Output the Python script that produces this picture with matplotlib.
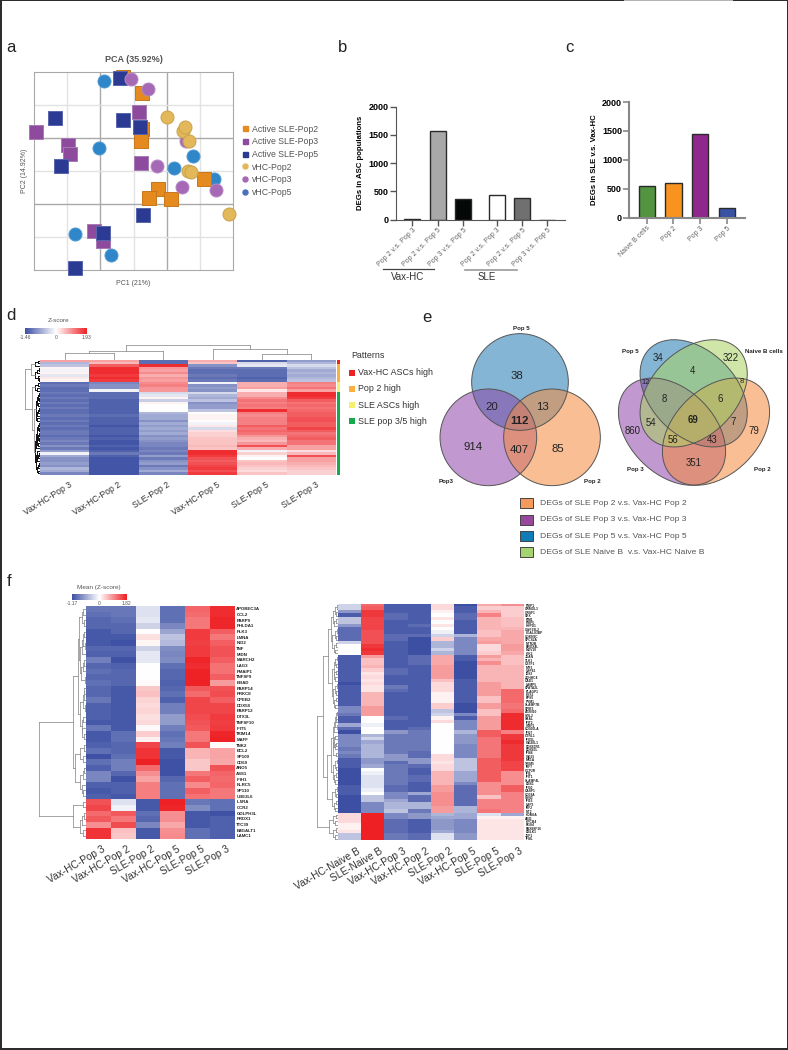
import matplotlib
matplotlib.use('Agg')
import matplotlib.pyplot as plt
import numpy as np
from matplotlib.colors import LinearSegmentedColormap, ListedColormap, TwoSlopeNorm
from matplotlib.cm import ScalarMappable
from matplotlib.lines import Line2D
from matplotlib.patches import Circle, Ellipse, Rectangle
from matplotlib.transforms import ScaledTranslation

plt.rcParams['font.family'] = ['Liberation Sans', 'DejaVu Sans']

## data: a, PCA scores ##
sle_pop2 = [(268, 585), (325, 535), (325, 428), (323, 390), (512, 275), (374, 244), (346, 217), (413, 214)]
sle_pop3 = [(7, 418), (104, 378), (110, 352), (317, 478), (322, 325), (180, 119), (208, 87)]
sle_pop5 = [(260, 582), (62, 462), (267, 455), (320, 432), (80, 315), (328, 168), (209, 112), (125, 7)]
vhc_pop2 = [(400, 465), (450, 422), (456, 432), (467, 392), (463, 300), (474, 296), (589, 171)]
vhc_pop3 = [(291, 580), (344, 549), (458, 392), (371, 316), (446, 251), (550, 242)]
vhc_pop5 = [(210, 572), (196, 371), (480, 345), (422, 308), (542, 277), (125, 110), (233, 45)]

## data: b and c, DEG counts ##
b_labels = ['Pop 2 v.s. Pop 3', 'Pop 2 v.s. Pop 5', 'Pop 3 v.s. Pop 5',
            'Pop 2 v.s. Pop 3', 'Pop 2 v.s. Pop 5', 'Pop 3 v.s. Pop 5']
b_values = [20, 1570, 360, 430, 380, 0]
c_labels = ['Naive B cells', 'Pop 2', 'Pop 3', 'Pop 5']
c_values = [550, 600, 1440, 165]

## data: d, z-score x 10 ##
d_columns = ['Vax-HC-Pop 3', 'Vax-HC-Pop 2', 'SLE-Pop 2', 'Vax-HC-Pop 5', 'SLE-Pop 5', 'SLE-Pop 3']
d_rows = [
    [8, 8, -12, 7, -13, -8], [-6, 6, -12, 5, -3, -6], [-5, 14, 18, -9, -2, -3], [1, 18, 9, -11, -11, -5],
    [-1, 18, 8, -12, -12, -7], [1, 18, 10, -12, -12, -6], [-2, 17, 7, -11, -12, -7], [2, 18, 9, -12, -13, -6],
    [1, 17, 8, -11, -12, -5], [-12, -10, 10, -1, 7, 11], [-11, -9, 11, -9, 7, 10], [-12, -9, 9, -8, 8, 12],
    [-12, -1, 9, -9, 2, 8], [-11, -12, -3, -3, 7, 18], [-12, -12, -2, -6, 7, 18], [-11, -12, 1, -7, 10, 17],
    [-12, -13, -4, -5, 12, 14], [-11, -13, 1, -9, 11, 12], [-12, -13, 0, -8, 12, 13], [-11, -13, 0, -8, 11, 12],
    [-12, -13, 0, -5, 18, 13], [-12, -13, -6, 0, 11, 14], [-11, -12, -7, 1, 10, 14], [-12, -13, -7, 1, 11, 15],
    [-11, -13, -9, 0, 11, 15], [-12, -13, -7, -1, 11, 14], [-11, -14, -8, 2, 14, 14], [-12, -13, -7, -3, 12, 16],
    [-11, -13, -8, 3, 13, 14], [-11, -13, -7, 4, 12, 12], [-12, -14, -9, 4, 9, 13], [-11, -13, -8, 5, 7, 14],
    [-10, -14, -9, 5, 6, 12], [-11, -14, -10, 5, 9, 12], [-9, -13, -10, 6, 15, 8], [-11, -14, -11, 5, 7, 8],
    [-8, -13, -10, 18, -1, 3], [-1, -11, -11, 18, 4, 6], [-7, -13, -8, 17, 1, 15], [-9, -14, -11, 15, 0, 8],
    [-9, -14, -9, 14, 5, 8], [-8, -14, -8, 15, 6, 7], [-9, -14, -11, 16, 5, 6], [-6, -14, -9, 17, 4, 5],
    [-7, -14, -7, 15, 3, 4], [-10, -14, -10, 17, 5, 4],
]
d_pattern = [0] * 2 + [1] * 7 + [2] * 4 + [3] * 33
pattern_names = ['Vax-HC ASCs high', 'Pop 2 high', 'SLE ASCs high', 'SLE pop 3/5 high']
pattern_colors = ['#ee2024', '#fbb040', '#f5ee6e', '#1aa84f']

## data: e, Venn counts ##
venn3_counts = ['38', '20', '13', '112', '914', '407', '85']
venn4_counts = ['34', '4', '322', '12', '8', '6', '8', '54', '69', '7', '860', '79', '56', '43', '351']
e_legend = ['DEGs of SLE Pop 2 v.s. Vax-HC Pop 2', 'DEGs of SLE Pop 3 v.s. Vax-HC Pop 3',
            'DEGs of SLE Pop 5 v.s. Vax-HC Pop 5', 'DEGs of SLE Naive B  v.s. Vax-HC Naive B']
e_colors = ['#f59a5f', '#97479c', '#0f7cb8', '#a5d36f']

## data: f, left heatmap, z-score x 10 ##
f1_columns = d_columns
f1_genes = ['APOBEC3A', 'CCL2', 'PARP9', 'PHLDA1', 'PLK3', 'LMNA', 'NID2', 'TNF', 'MIDN', 'MARCH2', 'LAG3',
            'PMAIP1', 'TNFSF9', 'BBAD', 'PARP14', 'PRKCE', 'CPEB2', 'DDX58', 'PARP12', 'DTX3L', 'TNFSF10',
            'IFIT5', 'TRIM14', 'MAFF', 'TNK2', 'BCL2', 'SP100', 'CD69', 'ANO5', 'ASS1', 'IFIH1', 'NLRC5',
            'SP110', 'UBE2L6', 'IL5RA', 'CCR2', 'GOLPH3L', 'PRDX1', 'TTC39', 'B4GALT1', 'LAMC1']
f1_rows = [
    [-9, -9, -2, -9.5, 12.5, 17], [-9.5, -9, -2, -9.5, 12, 17], [-10, -9.5, -1.5, -9.5, 11, 17.5],
    [-10, -10, -3, -8, 11, 17.5], [-11, -10, 0.2, -6, 16, 13], [-11, -11, 2.5, -4, 16, 11],
    [-11, -11.5, 0.8, -4.5, 15.5, 13], [-10, -10, -3, -7.5, 16, 14], [-10.5, -10.5, -1.5, -8, 16, 14],
    [-8.5, -11.5, -1.5, -7.5, 17.5, 13], [-10, -10.5, 0, -9.5, 17, 11.5], [-9.5, -10, 0, -10, 18, 11.5],
    [-10, -10, 0, -10, 18, 13], [-9.5, -10, 0.3, -10.5, 18, 8], [-10, -11, 4.5, -10, 13.5, 14],
    [-10, -11, 5, -9.5, 12, 14.5], [-9, -11, 3.5, -10.5, 15, 13], [-10.5, -11, 3, -8.5, 15, 15],
    [-10.5, -11, 3.5, -8.5, 15, 15], [-10.5, -11, 2.5, -6.5, 14.5, 16], [-11, -11, 3, -6.5, 14, 15.5],
    [-9, -11, 0.5, -8.5, 13.5, 16], [-11, -9.5, 4, -9.5, 11, 17.5], [-11, -9.5, 1, -9, 11, 18],
    [-10.5, -10, 15, -8.5, 14, 0.2], [-9.5, -10, 16.5, -11, 6, 7.5], [-11.5, -9.5, 16.5, -11, 6, 7.5],
    [-9.5, -8.5, 18, -11.5, 4.5, 7], [-10.5, -8.5, 12, -11.5, 4.5, 14], [-8, -10, 9, -11.5, 11, 12.5],
    [-8, -11.5, 7.5, -10, 13, 12], [-10.5, -10.5, 10.5, -9.5, 9.5, 12.5], [-11, -10.5, 10.5, -9.5, 13, 11],
    [-10.5, -11, 10.5, -9.5, 11.5, 11], [14, -2, -11, 18, -9, -9.5], [15, -0.8, -11, 17.5, -7.5, -9.5],
    [12, 13.5, -9.5, 9, -11, -11.5], [13.5, 11, -10, 9, -11, -10.5], [9, 14.5, -8, 7, -11, -10.5],
    [16.5, 5, -11, 9, -9.5, -10.5], [16.5, 4.5, -11, 9.5, -9.5, -10.5],
]

## data: f, right heatmap, z-score x 10 ##
f2_columns = ['Vax-HC-Naive B', 'SLE-Naive B', 'Vax-HC-Pop 3', 'Vax-HC-Pop 2', 'SLE-Pop 2', 'Vax-HC-Pop 5',
              'SLE-Pop 5', 'SLE-Pop 3']
f2_genes = ['PSIP1', 'ORMDL3', 'GRSF1', 'SRX', 'PIM1', 'PSIP5', 'HSPD1', 'CWF19L2', 'LGALS3BP', 'CDKN2C',
            'SPCS2A', 'MTR2B', 'BROX4L', 'MOV10', 'KIK2', 'JUAN', 'TLK1', 'CSTF1', 'MIF1', 'USP41', 'IDS3',
            'ZDHHC4', 'CAD1', 'LAMP5', 'SPATA2L', 'PLAGP1', 'EYS1', 'EPS5', 'PYM1', 'SLAMF7B', 'SPIB3',
            'ATXN10', 'STIL2', 'SAAL', 'IFIT2', 'ISBP1', 'CD300LA', 'IFI27', 'OTRL1', 'IFI35L', 'ISG20L1',
            'DDX60R1', 'DDX60L', 'IFI44', 'ISG15', 'MX1A', 'TRIM5', 'IRF7', 'GCP2R', 'IFI6', 'IFIT1',
            'SLAMF4L', 'DBX1', 'IFI30', 'CASP1', 'CD38A', 'SYN3', 'IFI16', 'LAP3', 'IRF2', 'MT2', 'KDM5A',
            'ABI3', 'KPCB4', 'RGS4', 'PAX8SF16', 'DBLK1', 'JUP1', 'IFI4L']
f2_rows = [
    [-3, 12, -11, -11, 3, -13, 7, 9], [-3, 13, -11, -11, 3, -11, 4, 4], [-7, 16, -11, -11, 1, -11, 6, 4],
    [-11, 16, -10, -11, 0, -10, 10, 4], [-4, 15, -10, -11, 2, -10, 6, 5], [-4, 15, -11, -11, 0, -11, 6, 5],
    [-7, 15, -11, -10, 2, -11, 6, 5], [-10, 15, -11, -11, 0, -11, 6, 6], [-10, 14, -11, -11, -1, -11, 5, 7],
    [-10, 14, -10, -10, -3, -5, 5, 7], [-10, 14, -10, -12, 4, -8, 7, 7], [-3, 14, -11, -12, -5, -8, 8, 7],
    [0, 16, -11, -12, -5, -8, 3, 8], [0, 17, -11, -12, -3, -8, 3, 8], [0, 16, -11, -12, -5, -8, 4, 7],
    [-11, 8, -11, -10, 7, -11, 8, 5], [-11, 5, -11, -10, 7, -11, 6, 5], [-11, 5, -11, -10, 7, -12, 9, 5],
    [-11, 6, -11, -11, 8, -12, 6, 6], [-11, 4, -10, -11, 8, -12, 6, 6], [-11, 2, -10, -11, 8, -12, 6, 6],
    [-11, 3, -11, -11, 8, -12, 6, 6], [-11, 2, -11, -11, 5, -11, 6, 6], [-12, 3, -11, -11, 3, -11, 8, 6],
    [-11, 2, -9, -11, 3, -11, 8, 6], [-11, 2, -10, -11, 3, -11, 8, 12], [-11, 6, -11, -11, 1, -11, 8, 12],
    [-11, 6, -11, -11, 1, -11, 5, 12], [-11, 6, -11, -11, 1, -11, 5, 12], [-11, 6, -11, -11, 4, -12, 8, 11],
    [-8, 8, -11, -11, 4, -12, 8, 11], [-8, 8, -11, -11, -4, -12, 5, 12], [-9, 8, -11, -11, -3, -8, 5, 17],
    [-11, 0, -10, -11, 1, -11, 8, 17], [-11, 0, -11, -11, 3, -8, 8, 17], [-6, -1, -11, -11, 0, -8, 8, 17],
    [-10, 0, -11, -10, 0, -8, 8, 17], [-13, 0, -7, -9, 0, -5, 13, 10], [-8, -5, -9, -9, 0, -7, 13, 16],
    [-8, -3, -9, -9, 0, -7, 11, 16], [-8, -6, -9, -9, 0, -7, 11, 17], [-8, -5, -9, -9, 0, -8, 11, 16],
    [-9, -5, -9, -9, 0, -8, 11, 16], [-8, -5, -9, -10, 0, -8, 11, 16], [-9, -5, -7, -10, 3, -8, 11, 16],
    [-11, -7, -7, -7, 3, -4, 13, 16], [-11, -7, -10, -7, 2, -4, 13, 15], [-11, -6, -9, -10, 3, -4, 13, 15],
    [-13, 0, -9, -11, 3, -4, 13, 15], [-13, -1, -9, -11, 6, -6, 13, 9], [-13, -2, -9, -10, 6, -6, 13, 9],
    [-13, -2, -9, -10, 6, -6, 13, 9], [-13, -2, -9, -11, 6, -8, 9, 9], [-11, -2, -10, -11, 8, -10, 9, 13],
    [-11, -1, -10, -11, 8, -10, 9, 13], [-11, 0, -8, -6, 9, -10, 9, 10], [-12, -4, -8, -10, 9, -10, 5, 10],
    [-12, -4, -6, -10, 9, -10, 10, 10], [-12, -8, -5, -5, 9, -10, 10, 10], [-13, -8, -5, -5, 8, -5, 10, 10],
    [-13, -8, -4, -9, 8, -5, 11, 10], [3, 18, -8, -7, -5, -6, -2, -6], [3, 18, -8, -7, -6, -6, 1, 1],
    [3, 18, -10, -11, -7, -8, 2, 2], [1, 18, -10, -11, -7, -8, 2, 2], [1, 18, -10, -11, -7, -8, 2, 2],
    [2, 18, -10, -11, -6, -8, 2, 2], [-4, 18, -9, -10, -2, -7, 2, 2], [-4, 18, -9, -10, -2, -7, 2, 2],
]


def chain(first, last, heights):
    # heights[i] is the merge height between row first+i and the next row, tallest split first
    if first == last:
        return first
    i = heights.index(max(heights))
    return (heights[i], chain(first, first + i, heights[:i]), chain(first + i + 1, last, heights[i + 1:]))


## dendrograms, (height, child, child), leaves are row numbers ##
d_col_tree = (42, (25, (18, 0, 1), 2), (31, 3, (15, 4, 5)))
d_row_tree = (15, (9, chain(0, 2, [2, 5]), chain(3, 8, [1, 3, 5, 2, 1])),
              (8, chain(9, 12, [2, 5, 3]),
               (6, chain(13, 24, [1, 2, 1.5, 3, 2, 4.5, 1.5, 2.5, 3, 4, 3.5]),
                chain(25, 45, [1, 2, 1, 3, 1.5, 2.5, 1, 3, 2, 4.5, 5, 3.5, 1.5, 2.5, 3, 4, 1, 2, 3, 2]))))
f1_tree = (47, (13, (8, (6.5, chain(0, 3, [2.5, 4, 1.5]),
                         chain(4, 13, [1.5, 2.5, 1, 3.5, 5.5, 2, 3, 4.5, 1])),
                     chain(14, 23, [1.5, 2, 3, 1, 6, 2.5, 4, 3.5, 1.5])),
                (11, chain(24, 27, [2, 6, 3]), chain(28, 33, [1.5, 3, 6, 4, 2.5]))),
           (13, chain(34, 35, [3]), chain(36, 40, [2, 4, 6, 3])))
f2_tree = (21, (15, (10, (7, chain(0, 6, [1, 3, 2, 5, 1.5, 3.5]),
                          chain(7, 14, [1, 2.5, 1.5, 5.5, 2, 4, 3])),
                     (6, chain(15, 22, [1, 2.5, 1.5, 4, 2, 3.5, 3]),
                      chain(23, 30, [1, 2.5, 2, 4.5, 1.5, 3.5, 3]))),
                (11, (7, chain(31, 44, [1, 2, 1.5, 3, 1, 3.5, 5, 2.5, 4, 1.5, 3, 4.5, 2]),
                      chain(45, 52, [1, 2.5, 1.5, 5, 2, 3.5, 3])),
                 chain(53, 60, [1, 2.5, 1.5, 5.5, 2, 4, 3]))),
           (9, chain(61, 64, [1.5, 5, 3]), chain(65, 68, [1.5, 5, 3])))

W, H = 788, 1050
fig = plt.figure(figsize=(W / 100, H / 100), dpi=100, facecolor='white')


def px_axes(left, top, right, bottom):
    return fig.add_axes([left / W, 1 - bottom / H, (right - left) / W, (bottom - top) / H])


heat_cmap = LinearSegmentedColormap.from_list('heat', ['#3c4fa3', '#ffffff', '#ee2024'])


def draw_tree(ax, node, on_rows=True, dark=0):
    if not isinstance(node, tuple):
        return node, 0
    h = node[0]
    kids = [draw_tree(ax, kid, on_rows, dark) for kid in node[1:]]
    col = '#111111' if h < dark else '#8c8c8c'
    lw = 0.7 if h < dark else 0.55
    for p, kh in kids:
        if on_rows:
            ax.plot([kh, h], [p, p], color=col, lw=lw)
        else:
            ax.plot([p, p], [kh, h], color=col, lw=lw)
    if on_rows:
        ax.plot([h, h], [kids[0][0], kids[-1][0]], color=col, lw=lw)
    else:
        ax.plot([kids[0][0], kids[-1][0]], [h, h], color=col, lw=lw)
    return (kids[0][0] + kids[-1][0]) / 2, h


def heatmap(box, rows, columns, vmin, vmax, col_size, angle, shift):
    ax = px_axes(*box)
    norm = TwoSlopeNorm(vmin=vmin, vcenter=0, vmax=vmax)
    ax.imshow(np.array(rows, dtype=float) / 10, cmap=heat_cmap, norm=norm, aspect='auto', interpolation='nearest')
    ax.set_yticks([])
    ax.set_xticks(range(len(columns)))
    ax.set_xticklabels(columns, rotation=angle, ha='right', rotation_mode='anchor', fontsize=col_size, color='#333333')
    ax.tick_params(axis='x', length=0, pad=4)
    for t in ax.get_xticklabels():
        t.set_transform(t.get_transform() + ScaledTranslation(shift / 100, 0, fig.dpi_scale_trans))
    for s in ax.spines.values():
        s.set_visible(False)
    return ax, norm


def score_bar(box, norm, ticks, labels):
    cax = px_axes(*box)
    cb = fig.colorbar(ScalarMappable(norm=norm, cmap=heat_cmap), cax=cax, orientation='horizontal')
    cb.outline.set_visible(False)
    cb.set_ticks(ticks)
    cb.set_ticklabels(labels)
    cax.tick_params(length=0, labelsize=3.6, pad=1, labelcolor='#555555')


## a ##
ax = px_axes(34, 72, 233, 270)
ax.set_xlim(0, 600)
ax.set_ylim(0, 600)
pca_sets = [(vhc_pop5, 'o', '#2f86c8', '#4f9ad2'), (sle_pop2, 's', '#e58a1f', '#c9761a'),
            (sle_pop3, 's', '#8e4b9e', '#a77ab3'), (sle_pop5, 's', '#2b3a92', '#5a66ad'),
            (vhc_pop3, 'o', '#a569b5', '#b78ac4'), (vhc_pop2, 'o', '#e3b85a', '#c9a24a')]
for pts, mark, col, edge in pca_sets:
    xs, ys = zip(*pts)
    ax.scatter(xs, ys, s=88, marker=mark, color=col, edgecolors=edge, linewidths=0.7, clip_on=False, zorder=3)
ax.set_xticks([200, 400])
ax.set_yticks([200, 400])
ax.set_xticks([100, 300, 500], minor=True)
ax.set_yticks([100, 300, 500], minor=True)
ax.grid(which='major', color='#a9a9a9', lw=1)
ax.grid(which='minor', color='#e2e2e2', lw=1)
ax.tick_params(which='both', length=0, labelbottom=False, labelleft=False)
ax.set_axisbelow(True)
for s in ax.spines.values():
    s.set_color('#a9a9a9')
ax.set_title('PCA (35.92%)', fontsize=6.5, fontweight='bold', color='#555555', pad=7)
ax.set_xlabel('PC1 (21%)', fontsize=5, color='#555555', labelpad=7)
ax.set_ylabel('PC2 (14.92%)', fontsize=5, color='#555555', labelpad=4)
handles = [Line2D([], [], ls='', marker=m, ms=3.6, color=c, label=n) for m, c, n in [
    ('s', '#e58a1f', 'Active SLE-Pop2'), ('s', '#8e4b9e', 'Active SLE-Pop3'), ('s', '#2b3a92', 'Active SLE-Pop5'),
    ('o', '#e3b85a', 'vHC-Pop2'), ('o', '#a569b5', 'vHC-Pop3'), ('o', '#4a6fbe', 'vHC-Pop5')]]
fig.legend(handles=handles, loc='upper left', bbox_to_anchor=(241.5 / W, 1 - 124.5 / H), frameon=False, fontsize=6.3,
           labelcolor='#555555', handlelength=0.8, handletextpad=0.35, labelspacing=0.42, borderpad=0, borderaxespad=0)

## b ##
b_pos = [0, 1, 2, 3.33, 4.33, 5.33]
b_fill = ['#222222', '#a8a8a8', '#050808', '#ffffff', '#707070', '#ffffff']
ax = px_axes(395.7, 106.7, 565, 219.7)
ax.bar(b_pos, b_values, width=0.63, color=b_fill, edgecolor='#2a2a2a', linewidth=1)
ax.set_xlim(-0.66, 6.03)
ax.set_ylim(0, 2000)
ax.set_xticks(b_pos)
ax.set_xticklabels(b_labels, rotation=45, ha='right', rotation_mode='anchor', fontsize=5, color='#666666')
ax.set_yticks([0, 500, 1000, 1500, 2000])
ax.tick_params(axis='y', labelsize=6.5, length=4, width=1, color='#555555', pad=1)
ax.tick_params(axis='x', length=4, width=1, color='#555555', pad=1)
for t in ax.get_yticklabels():
    t.set_fontweight('bold')
ax.spines[['top', 'right']].set_visible(False)
ax.spines[['left', 'bottom']].set_color('#555555')
ax.set_ylabel('DEGs in ASC populations', fontsize=5.6, fontweight='bold', labelpad=3)

## c ##
c_fill = ['#529440', '#f7931e', '#90278e', '#3853a4']
ax = px_axes(629, 102, 745, 217.7)
ax.bar(range(4), c_values, width=0.6, color=c_fill, edgecolor='#2a2a2a', linewidth=1)
ax.set_xlim(-0.66, 3.67)
ax.set_ylim(0, 2000)
ax.set_xticks(range(4))
ax.set_xticklabels(c_labels, rotation=45, ha='right', rotation_mode='anchor', fontsize=5, color='#666666')
ax.set_yticks([0, 500, 1000, 1500, 2000])
ax.tick_params(axis='y', labelsize=6.5, length=4, width=1.2, color='#888888', pad=1)
ax.tick_params(axis='x', length=4, width=1.2, color='#888888', pad=1)
for t in ax.get_yticklabels():
    t.set_fontweight('bold')
ax.spines[['top', 'right']].set_visible(False)
ax.spines[['left', 'bottom']].set_color('#888888')
ax.spines[['left', 'bottom']].set_linewidth(1.5)
ax.set_ylabel('DEGs in SLE v.s. Vax-HC', fontsize=5.6, fontweight='bold', labelpad=3)

## d ##
ax, d_norm = heatmap((40, 359.7, 336, 474.7), d_rows, d_columns, -1.46, 1.93, 6.2, 32, 4)
ax = px_axes(40, 345, 336, 359.7)
draw_tree(ax, d_col_tree, on_rows=False)
ax.set_xlim(-0.5, 5.5)
ax.set_ylim(0, 42)
ax.axis('off')
ax = px_axes(23, 359.7, 40, 474.7)
draw_tree(ax, d_row_tree, dark=5.5)
ax.set_xlim(17, 0)
ax.set_ylim(len(d_rows) - 0.5, -0.5)
ax.axis('off')
ax = px_axes(336.7, 359.7, 339.5, 474.7)
ax.imshow(np.array(d_pattern)[:, None], cmap=ListedColormap(pattern_colors), aspect='auto', interpolation='nearest')
ax.axis('off')
score_bar((25, 328, 87, 334), d_norm, [-1.46, 0, 1.93], ['-1.46', '0', '1.93'])

## f ##
ax, f1_norm = heatmap((85.7, 606, 234.3, 838.7), f1_rows, f1_columns, -1.17, 1.82, 7.3, 30, 4)
ax.yaxis.tick_right()
ax.set_yticks(range(len(f1_genes)))
ax.set_yticklabels(f1_genes, fontsize=3.2, fontweight='bold', color='#222222')
ax.tick_params(axis='y', length=0, pad=1.5)
ax = px_axes(36, 606, 85.7, 838.7)
draw_tree(ax, f1_tree)
ax.set_xlim(49.7, 0)
ax.set_ylim(len(f1_rows) - 0.5, -0.5)
ax.axis('off')
score_bar((72, 594.3, 126.7, 599.7), f1_norm, [-1.17, 0, 1.82], ['-1.17', '0', '1.82'])

ax, f2_norm = heatmap((338, 603.7, 523.7, 840.3), f2_rows, f2_columns, -1.2, 1.8, 7.3, 30, 7)
ax.yaxis.tick_right()
ax.set_yticks(range(len(f2_genes)))
ax.set_yticklabels(f2_genes, fontsize=2.3, fontweight='bold', color='#222222')
ax.tick_params(axis='y', length=0, pad=1.2)
ax = px_axes(314, 603.7, 338, 840.3)
draw_tree(ax, f2_tree)
ax.set_xlim(24, 0)
ax.set_ylim(len(f2_rows) - 0.5, -0.5)
ax.axis('off')

## overlay in page pixels: venns, labels, panel letters ##
ov = fig.add_axes([0, 0, 1, 1], facecolor='none', zorder=10)
ov.set_xlim(0, W)
ov.set_ylim(H, 0)
ov.axis('off')

# dark page border
for box in [(0, 0, 2, H), (0, H - 2, W, 2), (W - 1, 0, 1, H), (0, 0, W, 1)]:
    ov.add_patch(Rectangle(box[:2], box[2], box[3], color='#2f2c2e', lw=0))
ov.add_patch(Rectangle((624, 0), 109, 1.2, color='#b5b5b5', lw=0))

for letter, x, y in [('a', 11, 47), ('b', 343, 47), ('c', 569, 47), ('d', 11, 316), ('e', 427, 318), ('f', 9, 581)]:
    ov.text(x, y, letter, fontsize=12, ha='center', va='center', color='#222222')

ov.plot([382.7, 434], [269, 269], color='#444444', lw=0.9)
ov.plot([465, 516.7], [269.5, 269.5], color='#999999', lw=1.2)
ov.text(408, 276.5, 'Vax-HC', fontsize=7, ha='center', va='center', color='#333333')
ov.text(487, 277, 'SLE', fontsize=7, ha='center', va='center', color='#333333')

ov.text(351, 355.7, 'Patterns', fontsize=6.4, va='center', color='#333333')
for i, (name, col) in enumerate(zip(pattern_names, pattern_colors)):
    y = 372.7 + 16.2 * i
    ov.add_patch(Rectangle((349, y - 3), 6, 6, color=col, lw=0))
    ov.text(358, y, name, fontsize=6.4, va='center', color='#333333')

ov.text(59, 320.5, 'Z-score', fontsize=4.6, ha='center', va='center', color='#555555')
ov.text(99, 588, 'Mean (Z-score)', fontsize=4.6, ha='center', va='center', color='#555555')

ex, ey = 420, 310
blue, purple, orange, green = '#1f78b4', '#8e44a8', '#f58a3c', '#a9d362'


def zx(v):
    return ex + v / 3


def zy(v):
    return ey + v / 3


for cx, cy, col in [(300, 216, blue), (205, 382, purple), (396, 382, orange)]:
    ov.add_patch(Circle((zx(cx), zy(cy)), 145 / 3, facecolor=col, alpha=0.55, lw=0))
for cx, cy, col in [(300, 216, blue), (205, 382, purple), (396, 382, orange)]:
    ov.add_patch(Circle((zx(cx), zy(cy)), 145 / 3, fill=False, edgecolor='#555555', lw=0.7))
venn3_xy = [(291, 197), (216, 290), (367, 290), (299, 332), (160, 412), (298, 420), (413, 418)]
for txt, (x, y) in zip(venn3_counts, venn3_xy):
    ov.text(zx(x), zy(y), txt, fontsize=8.2, ha='center', va='center', color='#222222',
            fontweight='bold' if txt == '112' else 'normal')
for txt, x, y in [('Pop 5', 304, 55), ('Pop3', 78, 513), ('Pop 2', 516, 513), ('Pop 5', 631, 126),
                  ('Naive B cells', 1032, 125), ('Pop 3', 646, 479), ('Pop 2', 1026, 479)]:
    ov.text(zx(x), zy(y), txt, fontsize=4.4, fontweight='bold', ha='center', va='center', color='#222222')

venn4_shapes = [(821, 250, 45, blue), (756, 365, 45, purple), (888, 365, -45, orange), (821, 250, -45, green)]
for cx, cy, ang, col in venn4_shapes:
    ov.add_patch(Ellipse((zx(cx), zy(cy)), 376 / 3, 256 / 3, angle=ang, facecolor=col, alpha=0.55, lw=0))
for cx, cy, ang, col in venn4_shapes:
    ov.add_patch(Ellipse((zx(cx), zy(cy)), 376 / 3, 256 / 3, angle=ang, fill=False, edgecolor='#555555', lw=0.7))
venn4_xy = [(714, 145), (817, 182), (931, 145), (677, 218), (734, 268), (900, 268), (965, 215), (692, 338),
            (820, 330), (938, 337), (638, 362), (1003, 362), (759, 390), (877, 390), (822, 458)]
for txt, (x, y) in zip(venn4_counts, venn4_xy):
    size = 6.9
    if (x, y) in [(677, 218), (965, 215)]:
        size = 5.4
    ov.text(zx(x), zy(y), txt, fontsize=size, ha='center', va='center', color='#222222',
            fontweight='bold' if txt == '69' else 'normal')

for i, (txt, col) in enumerate(zip(e_legend, e_colors)):
    y = zy(580 + 49 * i)
    ov.add_patch(Rectangle((zx(300), y - 5), 13.3, 10, facecolor=col, edgecolor='#444444', lw=0.7))
    ov.text(zx(360), y, txt, fontsize=6.1, va='center', color='#555555')

fig.savefig('out.png', dpi=100)
